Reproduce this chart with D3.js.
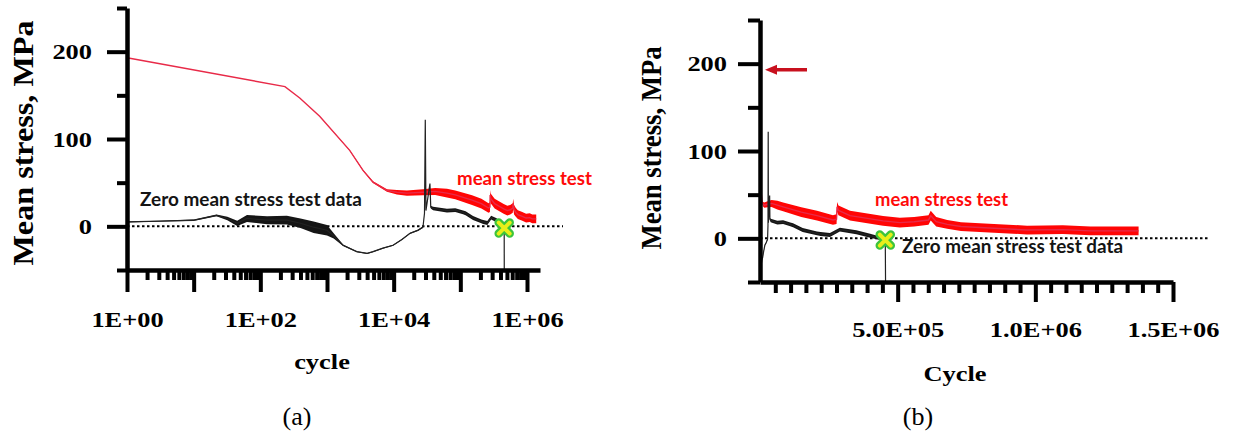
<!DOCTYPE html>
<html>
<head>
<meta charset="utf-8">
<script src="https://cdn.jsdelivr.net/npm/d3@7"></script>
<style>
  body { margin: 0; background: #fff; }
  svg { display: block; }
</style>
</head>
<body>
<svg id="fig" width="1233" height="438"></svg>
<script>
// ---- Mean stress test (red): cycle count, mean stress (MPa), half-width of the scatter band (MPa)
const redCycles = [1, 234, 390, 776, 2190, 3470, 4900, 7940, 11200, 15800, 27500, 42000, 63000, 84000,
  150000, 207000, 265000, 278000, 280000, 285000, 327000, 447000, 508000, 560000, 612000, 620000,
  640000, 680000, 730000, 850000, 970000, 1100000, 1200000, 1375000];
const redStress = [193, 160, 147, 126, 87, 64, 50.6, 41, 39, 38, 39, 40, 38, 36,
  30, 26, 21, 22, 36, 32, 26, 20, 18, 19, 21, 26,
  19, 16, 13.5, 11.5, 9.5, 10, 8.5, 8.5];
const redBand = [0, 0, 0, 0, 0.4, 0.7, 1, 1.5, 2.5, 3, 3.5, 4, 5, 5,
  5.5, 5.5, 5.5, 5.5, 5.5, 5.5, 5.5, 5.5, 5.5, 5.5, 5.5, 5.5,
  5.5, 5, 5, 5, 5, 5, 5, 5];

// ---- Zero mean stress test (black)
const blackCycles = [1, 3.2, 10, 22, 32, 45, 63, 126, 250, 400, 630, 1000, 1260, 1740, 2800, 4000,
  4900, 6900, 9800, 13300, 17600, 23200, 27500, 29000, 29800, 30500, 35000, 36000, 39000, 63000,
  84000, 110000, 120000, 155000, 207000, 220000, 254000, 290000, 350000, 400000, 436000, 455000, 456000];
const blackStress = [5, 6, 7, 12.5, 9, 3.5, 9, 7, 7, 3.5, -1, -4.5, -11, -21.7, -29, -31,
  -29, -25, -21.7, -15, -8, -4.5, -1, 15, 122, 18, 49, 22, 20.5, 18,
  18.6, 16, 15, 9.5, 5.7, 5, 3.8, 10, 7, 3, 0, -1, -50];
const blackBand = [0.5, 0.5, 0.8, 1, 2, 3, 4, 4.5, 5, 5.5, 6.5, 6, 3, 0.8, 0.6, 0.6,
  0.6, 0.6, 0.6, 0.6, 0.6, 0.8, 1, 0, 0, 0, 0, 1.5, 2, 2.2,
  2.2, 2.2, 2.2, 2.2, 2.2, 2.2, 2.2, 2.2, 2.2, 2.2, 2, 0, 0];

// Failure point of the zero-mean-stress specimen
const failCycle = 455000;
const failStress = -2;

// ---- Axis ticks
const yMajorTicks = [0, 100, 200];
const yMinorTicks = [-50, 50, 150, 250];
const logMajorTicks = [1, 1e1, 1e2, 1e3, 1e4, 1e5, 1e6];
const linMajorTicks = [5e5, 1e6, 1.5e6];

const redData = redCycles.map((n, i) => ({ n, v: redStress[i], s: redBand[i] }));
const blackData = blackCycles.map((n, i) => ({ n, v: blackStress[i], s: blackBand[i] }));

const svg = d3.select('#fig');
const SERIF = '"Liberation Serif", "Times New Roman", serif';
const SANS = 'Lato, "DejaVu Sans", sans-serif';
const AXIS_W = 4.5;
const TICK_W = 4;

// widen glyphs horizontally by factor k
function stretch(sel, k) {
  sel.each(function () {
    const w = this.getComputedTextLength();
    this.setAttribute('textLength', w * k);
    this.setAttribute('lengthAdjust', 'spacingAndGlyphs');
  });
}

function styleAxis(g) {
  g.selectAll('path.domain')
    .attr('stroke', '#000').attr('stroke-width', AXIS_W)
    .style('stroke', '#000').style('stroke-width', AXIS_W + 'px');
  g.selectAll('.tick line')
    .attr('stroke', '#000').attr('stroke-width', TICK_W)
    .style('stroke', '#000').style('stroke-width', TICK_W + 'px');
  g.selectAll('.tick text')
    .attr('fill', '#000')
    .style('font-family', SERIF)
    .style('font-weight', 'bold')
    .style('font-size', '22px');
}

function drawPanel(p) {
  const { x, y } = p;
  const g = svg.append('g');

  const y0 = y.range()[0];

  // dotted zero reference line
  g.append('line')
    .attr('x1', x.range()[0]).attr('x2', x.range()[1] + p.zeroOver)
    .attr('y1', y(0)).attr('y2', y(0))
    .attr('stroke', '#000').attr('stroke-width', 2).attr('stroke-dasharray', '2.5,2.5');

  const band = d3.area().x(d => x(d.n)).y0(d => y(d.v - d.s)).y1(d => y(d.v + d.s));
  const line = d3.line().x(d => x(d.n)).y(d => y(d.v));

  // mean stress test
  g.append('path').datum(redData).attr('d', band).attr('fill', '#ff0505');
  g.append('path').datum(redData).attr('d', line)
    .attr('fill', 'none').attr('stroke', '#e82a48').attr('stroke-width', 1.4);

  // zero mean stress test
  g.append('path').datum(blackData).attr('d', band).attr('fill', '#151515');
  g.append('path').datum(blackData).attr('d', line)
    .attr('fill', 'none').attr('stroke', '#222').attr('stroke-width', 1.2);

  // y axis: labelled majors and short minors
  const yAx = g.append('g').attr('transform', `translate(${x.range()[0]},0)`);
  yAx.call(d3.axisLeft(y).tickValues(yMajorTicks).tickSize(p.yMajor).tickSizeOuter(0)
      .tickPadding(p.yPad).tickFormat(d3.format('d')));
  styleAxis(yAx);
  stretch(yAx.selectAll('.tick text'), 1.2);
  const yMin = g.append('g').attr('transform', `translate(${x.range()[0]},0)`);
  yMin.call(d3.axisLeft(y).tickValues(yMinorTicks).tickSize(p.yMinor).tickSizeOuter(0).tickFormat(''));
  yMin.select('.domain').remove();
  styleAxis(yMin);

  // x axis
  const xAx = g.append('g').attr('transform', `translate(0,${y0})`);
  xAx.call(d3.axisBottom(x).tickValues(p.xMajor).tickSize(p.xMajorLen).tickSizeOuter(0)
      .tickPadding(p.xPad).tickFormat(p.xFormat));
  styleAxis(xAx);
  stretch(xAx.selectAll('.tick text'), 1.2);
  const xMin = g.append('g').attr('transform', `translate(0,${y0})`);
  xMin.call(d3.axisBottom(x).tickValues(p.xMinor).tickSize(p.xMinorLen).tickSizeOuter(0).tickFormat(''));
  xMin.select('.domain').remove();
  styleAxis(xMin);

  // failure marker
  const fx = x(failCycle), fy = y(failStress), s = 5.5;
  const xPath = `M${fx - s},${fy - s}L${fx + s},${fy + s}M${fx - s},${fy + s}L${fx + s},${fy - s}`;
  g.append('path').attr('d', xPath).attr('stroke', '#3cc43c').attr('stroke-width', 8.5)
    .attr('stroke-linecap', 'round').attr('fill', 'none');
  g.append('path').attr('d', xPath).attr('stroke', '#e8ee1a').attr('stroke-width', 4)
    .attr('stroke-linecap', 'round').attr('fill', 'none');

  // axis titles
  g.append('text')
    .attr('transform', `translate(${p.yTitle[0]},${p.yTitle[1]}) rotate(-90)`)
    .attr('text-anchor', 'middle')
    .attr('textLength', p.yTitleLen).attr('lengthAdjust', 'spacingAndGlyphs')
    .style('font-family', SERIF).style('font-weight', 'bold').style('font-size', '30px')
    .text('Mean stress, MPa');

  const xt = g.append('text')
    .attr('x', p.xTitle[0]).attr('y', p.xTitle[1]).attr('text-anchor', 'middle')
    .style('font-family', SERIF).style('font-weight', 'bold').style('font-size', '22px')
    .text(p.xTitleText);
  stretch(xt, 1.2);

  // panel caption
  g.append('text')
    .attr('x', p.caption[0]).attr('y', p.caption[1]).attr('text-anchor', 'middle')
    .style('font-family', SERIF).style('font-size', '26px')
    .text(p.captionText);

  // series annotations
  p.notes.forEach(n => {
    g.append('text')
      .attr('x', n.x).attr('y', n.y)
      .attr('fill', n.color)
      .attr('textLength', n.len).attr('lengthAdjust', 'spacingAndGlyphs')
      .style('font-family', SANS).style('font-weight', 'bold').style('font-size', '18px')
      .text(n.text);
  });
  return g;
}

// ---------------- (a) log cycle axis ----------------
const xa = d3.scaleLog().domain([1, Math.pow(10, 6.195)]).range([127, 540]);
const ya = d3.scaleLinear().domain([-50, 250]).range([270, 8]);
const logMinor = [];
for (let k = 0; k <= 6; k++) {
  for (let m = 2; m <= 9; m++) {
    const v = m * Math.pow(10, k);
    if (v <= xa.domain()[1]) logMinor.push(v);
  }
}
drawPanel({
  x: xa, y: ya,
  yMajor: 20, yMinor: 10, yPad: 15,
  xMajor: logMajorTicks, xMajorLen: 22, xMinor: logMinor, xMinorLen: 10, xPad: 19,
  xFormat: d => {
    const e = Math.round(Math.log10(d));
    return e % 2 === 0 ? '1E+' + String(e).padStart(2, '0') : '';
  },
  zeroOver: 23,
  yTitle: [33, 143], yTitleLen: 245,
  xTitle: [322, 369], xTitleText: 'cycle',
  caption: [297, 425], captionText: '(a)',
  notes: [
    { text: 'Zero mean stress test data', x: 140, y: 206, len: 222, color: '#141414' },
    { text: 'mean stress test', x: 457, y: 185, len: 135, color: '#ff0a0a' }
  ]
});

// ---------------- (b) linear cycle axis ----------------
const xb = d3.scaleLinear().domain([0, 1.5e6]).range([760, 1173]);
const yb = d3.scaleLinear().domain([-50, 250]).range([282, 20]);
const linMinor = d3.range(1, 27).filter(i => i % 9 !== 0).map(i => i * 5e5 / 9);
const gb = drawPanel({
  x: xb, y: yb,
  yMajor: 22, yMinor: 12, yPad: 11,
  xMajor: linMajorTicks, xMajorLen: 20, xMinor: linMinor, xMinorLen: 11, xPad: 19,
  xFormat: d => {
    const [m, e] = d.toExponential(1).split('e');
    return m + 'E' + (e[0] === '-' ? '-' : '+') + String(Math.abs(+e)).padStart(2, '0');
  },
  zeroOver: 35,
  yTitle: [661, 148], yTitleLen: 203,
  xTitle: [955, 381], xTitleText: 'Cycle',
  caption: [918, 425], captionText: '(b)',
  notes: [
    { text: 'mean stress test', x: 875, y: 206, len: 133, color: '#ff0a0a' },
    { text: 'Zero mean stress test data', x: 902, y: 253, len: 221, color: '#141414' }
  ]
});

// arrow pointing at the initial mean stress
const tipX = xb(0) + 5, tipY = yb(redStress[0]);
gb.append('path')
  .attr('d', `M${tipX},${tipY}L${tipX + 12},${tipY - 5}L${tipX + 12},${tipY - 1.8}L${tipX + 42},${tipY - 1.8}` +
    `L${tipX + 42},${tipY + 1.8}L${tipX + 12},${tipY + 1.8}L${tipX + 12},${tipY + 5}Z`)
  .attr('fill', '#c8101e');
</script>
</body>
</html>
